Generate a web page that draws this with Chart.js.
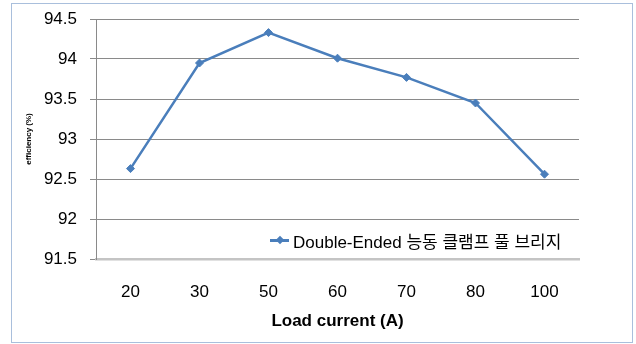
<!DOCTYPE html>
<html>
<head>
<meta charset="utf-8">
<script src="https://cdn.jsdelivr.net/npm/chart.js@4"></script>
<style>
  html, body { margin: 0; padding: 0; background: #fff; }
  #wrap { position: relative; width: 636px; height: 344px; }
  #frame {
    position: absolute; left: 11px; top: 3px; width: 620px; height: 338px;
    border: 1.5px solid #a9bfdc; pointer-events: none;
  }
  #legend {
    position: absolute; left: 270px; top: 229px; height: 22px;
    display: flex; align-items: center; white-space: nowrap;
    font: 17px "Liberation Sans", "Noto Sans CJK KR", sans-serif; color: #000;
  }
  #legend .mark { position: relative; width: 19px; height: 22px; margin-right: 4px; }
  #legend .mark .ln { position: absolute; left: 0; top: 10px; width: 19px; height: 2.5px; background: #4a7ebb; }
  #legend .mark .dm { position: absolute; left: 7px; top: 7.5px; width: 6px; height: 6px; background: #4a7ebb; transform: rotate(45deg); }
</style>
</head>
<body>
<div id="wrap">
  <canvas id="chart" width="636" height="344"></canvas>
  <div id="frame"></div>
  <div id="legend"><span class="mark"><span class="ln"></span><span class="dm"></span></span><span id="legendText"></span></div>
</div>
<script>
// ── DATA ───────────────────────────────────────────────────────────────
const loadCurrent = ['20', '30', '50', '60', '70', '80', '100'];
const efficiency = [92.63, 93.95, 94.33, 94.01, 93.77, 93.45, 92.56];
const yTickLabels = ['91.5', '92', '92.5', '93', '93.5', '94', '94.5'];
const seriesName = 'Double-Ended 능동 클램프 풀 브리지';
const xTitle = 'Load current (A)';
const yTitle = 'efficiency (%)';

const FONT = '"Liberation Sans", "Noto Sans CJK KR", sans-serif';

document.getElementById('legendText').textContent = seriesName;

new Chart(document.getElementById('chart'), {
  type: 'line',
  data: {
    labels: loadCurrent,
    datasets: [{
      label: seriesName,
      data: efficiency,
      borderColor: '#4a7ebb',
      backgroundColor: '#4a7ebb',
      borderWidth: 2.5,
      pointStyle: 'rectRot',
      pointRadius: 4,
      pointBorderWidth: 1,
      tension: 0,
    }]
  },
  options: {
    responsive: false,
    animation: false,
    layout: { padding: { left: 0, right: 57, top: 19, bottom: 0 } },
    plugins: {
      legend: { display: false },
      tooltip: { enabled: false }
    },
    scales: {
      x: {
        offset: true,
        afterFit: (s) => { s.height = 85; },
        grid: { display: false, drawTicks: false },
        border: { display: true, color: '#c4c4c4', width: 2.5 },
        ticks: {
          color: '#000',
          padding: 23,
          maxRotation: 0,
          font: { family: FONT, size: 17 }
        },
        title: {
          display: true,
          text: xTitle,
          color: '#000',
          padding: { top: 0, bottom: 12 },
          font: { family: FONT, size: 17, weight: 'bold' }
        }
      },
      y: {
        min: 91.5,
        max: 94.5,
        afterFit: (s) => {
          s.width = 96;
          s.paddingTop = 0;
          s.paddingBottom = 0;
        },
        grid: { color: '#8a8a8a', lineWidth: 1, tickLength: 6 },
        border: { display: true, color: '#8a8a8a', width: 1 },
        ticks: {
          stepSize: 0.5,
          color: '#000',
          padding: 13,
          font: { family: FONT, size: 17 },
          callback: (value, i) => yTickLabels[i]
        },
        title: {
          display: true,
          text: yTitle,
          color: '#000',
          padding: { top: 24, bottom: 0 },
          font: { family: FONT, size: 8, weight: 'bold' }
        }
      }
    }
  }
});
</script>
</body>
</html>
